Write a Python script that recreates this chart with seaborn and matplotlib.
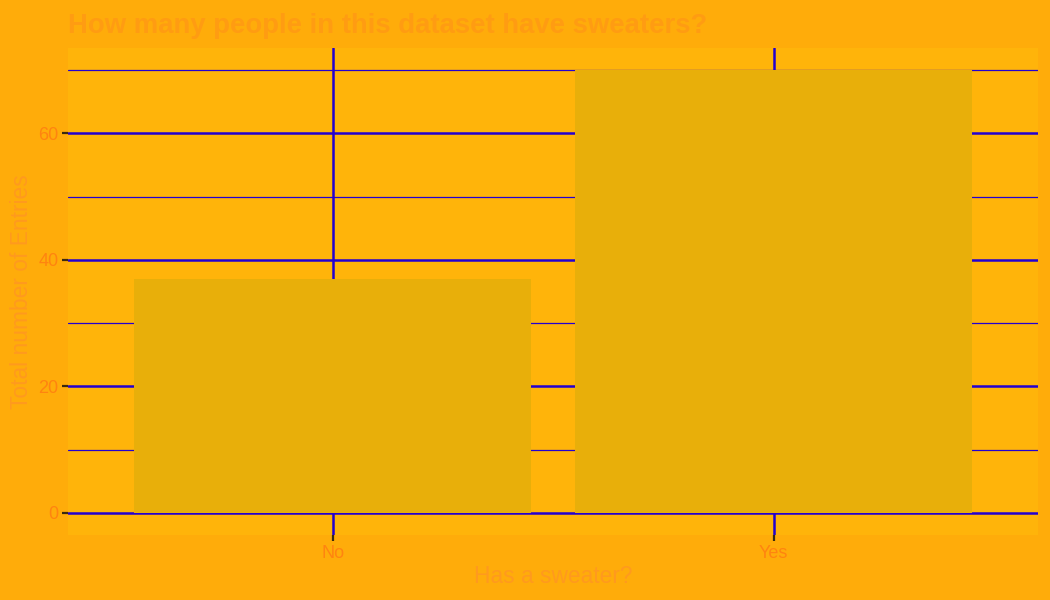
import matplotlib
matplotlib.use("Agg")
import matplotlib.pyplot as plt
import pandas as pd
import seaborn as sns
from matplotlib.ticker import MultipleLocator

# data
answers = ["No", "Yes"]
counts = [37, 70]

df = pd.DataFrame({"Has a sweater?": answers, "Total number of Entries": counts})

sns.set_theme(style="white")
plt.rcParams["font.family"] = ["Liberation Sans", "DejaVu Sans"]

fig = plt.figure(figsize=(10.5, 6), dpi=100, facecolor="#FFAC0A")
ax = fig.add_axes([0.0648, 0.1083, 0.924, 0.8117])
ax.set_facecolor("#FFB40A")

sns.barplot(ax=ax, data=df, x="Has a sweater?", y="Total number of Entries",
            order=answers, color="#E8AF0A", saturation=1, width=0.9,
            linewidth=0, zorder=3)

ax.set_xlim(-0.6, 1.6)
ax.set_ylim(-3.5, 73.5)
ax.yaxis.set_major_locator(MultipleLocator(20))
ax.yaxis.set_minor_locator(MultipleLocator(10))

ax.set_axisbelow(True)
ax.grid(which="major", axis="both", color="#2400D0", linewidth=1.8)
ax.grid(which="minor", axis="y", color="#2400D0", linewidth=0.9)

for s in ax.spines.values():
    s.set_visible(False)

ax.tick_params(axis="both", which="major", length=4, width=1.6, color="#3A2A10",
               labelsize=13, labelcolor="#FF8410", pad=3, left=True, bottom=True)
ax.tick_params(axis="y", which="minor", length=0)

ax.set_xlabel("Has a sweater?", fontsize=16.4, color="#FF9A1E", labelpad=2)
ax.set_ylabel("Total number of Entries", fontsize=16.4, color="#FF9A1E", labelpad=4)
ax.set_title("How many people in this dataset have sweaters?", loc="left",
             fontsize=19.8, fontweight="bold", color="#FF9C12", pad=11)

fig.savefig("out.png", dpi=100, facecolor=fig.get_facecolor())
